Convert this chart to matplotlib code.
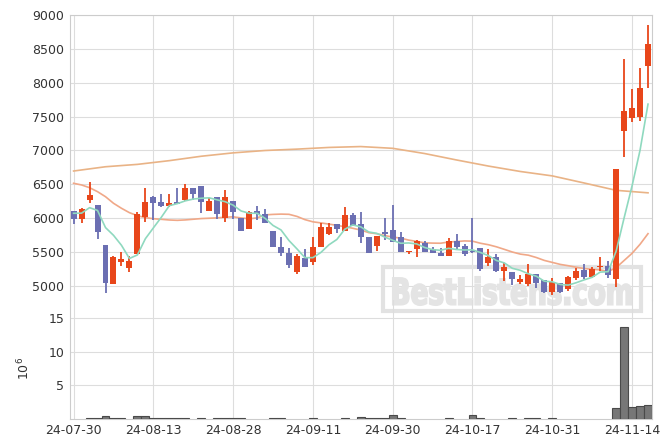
import numpy as np
import pandas as pd
import matplotlib
matplotlib.use('Agg')
import matplotlib.pyplot as plt
from matplotlib.textpath import TextPath
from matplotlib.font_manager import FontProperties
from matplotlib.patches import PathPatch, Rectangle
from matplotlib.transforms import Affine2D, IdentityTransform

# trading days (yy-mm-dd)
dates = ['24-07-30', '24-07-31',
         '24-08-01', '24-08-02', '24-08-05', '24-08-06', '24-08-07', '24-08-08', '24-08-09', '24-08-12', '24-08-13',
         '24-08-14', '24-08-16', '24-08-19', '24-08-20', '24-08-21', '24-08-22', '24-08-23', '24-08-26', '24-08-27', '24-08-28',
         '24-08-29', '24-08-30', '24-09-02', '24-09-03', '24-09-04', '24-09-05', '24-09-06', '24-09-09', '24-09-10', '24-09-11',
         '24-09-12', '24-09-13', '24-09-19', '24-09-20', '24-09-23', '24-09-24', '24-09-25', '24-09-26', '24-09-27', '24-09-30',
         '24-10-02', '24-10-04', '24-10-07', '24-10-08', '24-10-10', '24-10-11', '24-10-14', '24-10-15', '24-10-16', '24-10-17',
         '24-10-18', '24-10-21', '24-10-22', '24-10-23', '24-10-24', '24-10-25', '24-10-28', '24-10-29', '24-10-30', '24-10-31',
         '24-11-01', '24-11-04', '24-11-05', '24-11-06', '24-11-07', '24-11-08', '24-11-11', '24-11-12', '24-11-13', '24-11-14',
         '24-11-15', '24-11-18']

opens = [6107, 5993, 6269, 6196, 5605, 5034, 5359, 5270, 5477, 6023,
         6309, 6235, 6185, 6240, 6270, 6442, 6476, 6111, 6309, 6008,
         6255, 6008, 5846, 6111, 6063, 5812, 5580, 5492, 5202, 5409,
         5350, 5580, 5768, 5911, 5816, 6048, 5915, 5719, 5595, 5793,
         5827, 5728, 5497, 5546, 5630, 5546, 5483, 5447, 5664, 5590,
         5521, 5565, 5344, 5433, 5226, 5211, 5063, 5030, 5177, 5089,
         4916, 5040, 4951, 5113, 5236, 5137, 5281, 5300, 5103, 7292,
         7484, 7499, 8252]
highs = [6110, 6156, 6531, 6196, 5605, 5443, 5502, 5443, 6088, 6442,
         6333, 6358, 6358, 6442, 6505, 6442, 6476, 6294, 6309, 6417,
         6255, 6008, 6111, 6185, 6132, 5812, 5719, 5556, 5468, 5551,
         5728, 5925, 5934, 5911, 6170, 6073, 6097, 5719, 5738, 5999,
         6196, 5793, 5517, 5679, 5664, 5571, 5556, 5704, 5763, 5620,
         5999, 5565, 5542, 5472, 5335, 5211, 5162, 5320, 5177, 5089,
         5118, 5040, 5148, 5266, 5325, 5276, 5424, 5374, 6727, 8346,
         7903, 8213, 8852]
lows = [5915, 5935, 6221, 5689, 4901, 5034, 5300, 5202, 5477, 5949,
        5974, 6170, 6170, 6205, 6260, 6269, 6073, 6100, 5993, 5949,
        5993, 5816, 5846, 5974, 5934, 5571, 5443, 5270, 5173, 5285,
        5310, 5580, 5748, 5778, 5816, 5890, 5630, 5492, 5517, 5679,
        5650, 5497, 5468, 5424, 5507, 5492, 5448, 5447, 5546, 5447,
        5492, 5226, 5295, 5211, 5078, 5015, 5025, 5000, 4966, 4900,
        4870, 4900, 4931, 5089, 5099, 5123, 5226, 5123, 4981, 6908,
        7425, 7435, 7918]
closes = [5993, 6136, 6343, 5801, 5037, 5424, 5399, 5369, 6063, 6235,
          6221, 6185, 6225, 6210, 6442, 6354, 6245, 6255, 6058, 6309,
          6097, 5816, 6088, 6058, 5934, 5571, 5483, 5306, 5443, 5285,
          5576, 5866, 5866, 5841, 6044, 5890, 5719, 5492, 5738, 5773,
          5650, 5497, 5517, 5669, 5507, 5492, 5448, 5664, 5580, 5472,
          5502, 5251, 5433, 5226, 5285, 5108, 5103, 5177, 5049, 4916,
          5063, 4907, 5128, 5226, 5128, 5251, 5290, 5162, 6727, 7583,
          7623, 7918, 8572]
# volume in millions
volumes = [0, 0, 0.08, 0.08, 0.35, 0.08, 0.08, 0, 0.35, 0.35,
           0.08, 0.08, 0.08, 0.08, 0.08, 0, 0.08, 0, 0.08, 0.08,
           0.08, 0.08, 0, 0, 0, 0.08, 0.08, 0, 0, 0,
           0.08, 0, 0, 0, 0.08, 0, 0.2, 0.08, 0.08, 0.08,
           0.45, 0.08, 0, 0, 0, 0, 0, 0.08, 0, 0,
           0.45, 0.08, 0, 0, 0, 0.08, 0, 0.08, 0.08, 0,
           0.08, 0, 0, 0, 0, 0, 0, 0, 1.6, 13.75,
           1.75, 1.9, 2.05]

# moving averages: first values need days before the window
ma5_head = [6073, 6075, 6156, 6115]
ma20_head = [6516, 6491, 6451, 6392, 6318, 6221, 6147, 6082, 6038, 6008,
             5993, 5984, 5974, 5969, 5975, 5985, 5995, 6000, 6005]
ma_long_idx = [0, 4, 8, 12, 16, 20, 24, 28, 32, 36, 40, 44, 48, 52, 56, 60, 64, 68, 72]
ma_long = [6697, 6760, 6795, 6850, 6915, 6965, 7000, 7020, 7045, 7058,
           7032, 6955, 6860, 6770, 6690, 6625, 6520, 6412, 6375]

up_color = '#e8461a'
down_color = '#6b6fb2'

df = pd.DataFrame({'open': opens, 'high': highs, 'low': lows, 'close': closes, 'vol': volumes})
x = np.arange(len(df))
ma5 = df['close'].rolling(5).mean().to_numpy()
ma5[:len(ma5_head)] = ma5_head
ma20 = df['close'].rolling(20).mean().to_numpy()
ma20[:len(ma20_head)] = ma20_head

fig = plt.figure(figsize=(6.71, 4.48), dpi=100)
W, H = 671, 448
ax1 = fig.add_axes([70 / W, 1 - 300 / H, 582 / W, 285 / H])
ax2 = fig.add_axes([70 / W, 1 - 418.5 / H, 582 / W, 118.5 / H], sharex=ax1)
ax2.set_facecolor('none')

up = df['close'] >= df['open']
colors = np.where(up, up_color, down_color)
body_low = np.minimum(df['open'], df['close'])
body_h = np.maximum(np.abs(df['close'] - df['open']), 15)

ax1.vlines(x, df['low'], df['high'], colors=colors, linewidth=1.3, zorder=3)
ax1.bar(x, body_h, bottom=body_low, width=0.75, color=colors, zorder=4)

ax1.plot(ma_long_idx, ma_long, color='#e9b386', linewidth=1.2, zorder=2)
ax1.plot(x, ma20, color='#f0a888', linewidth=1.2, zorder=2)
ax1.plot(x, ma5, color='#8fd9bf', linewidth=1.2, zorder=5)

ax1.set_ylim(4793, 9000)
ax1.set_yticks(np.arange(5000, 9001, 500))
ax1.set_xlim(-0.45, 72.5)

# volume
vmask = df['vol'] > 0
ax2.bar(x[vmask], df['vol'][vmask], width=1.0, color='#777777', edgecolor='#4a4a4a', linewidth=0.8, zorder=3)
ax2.set_ylim(0, 17.76)
ax2.set_yticks([5, 10, 15])
ax2.set_ylabel(r'$10^6$', fontsize=9, color='#333333')
ax2.yaxis.set_label_coords(-0.064, 0.42)

tick_pos = x[::10]
ax2.set_xticks(tick_pos)
ax2.set_xticklabels([dates[i] for i in tick_pos])
plt.setp(ax1.get_xticklabels(), visible=False)

for ax in (ax1, ax2):
    ax.grid(True, color='#dddddd', linewidth=0.8, zorder=0)
    ax.set_axisbelow(True)
    ax.tick_params(length=0, labelsize=9, labelcolor='#333333', pad=4)
    for s in ax.spines.values():
        s.set_color('#cccccc')
        s.set_linewidth(0.8)
ax1.spines['bottom'].set_visible(False)
ax2.spines['top'].set_visible(False)

# watermark: condensed bold text in a box (pixel coordinates, origin bottom-left)
tp = TextPath((0, 0), 'BestListens.com', size=1, prop=FontProperties(family='DejaVu Sans', weight='bold'))
ext = tp.get_extents()
tx0, tx1, ty0, ty1 = 393, 631, 143, 171
wm_tr = Affine2D().translate(-ext.x0, -ext.y0).scale((tx1 - tx0) / ext.width, (ty1 - ty0) / ext.height).translate(tx0, ty0)
ax1.add_patch(PathPatch(wm_tr.transform_path(tp), transform=IdentityTransform(), fc='#e4e4e4', ec='#e4e4e4',
                        lw=1.5, zorder=1.5, clip_on=False))
ax1.add_patch(Rectangle((383, 137), 258, 44, transform=IdentityTransform(), fc='none', ec='#e2e2e2', lw=3,
                        zorder=1.5, clip_on=False))

fig.savefig('out.png', dpi=100, facecolor='white')
